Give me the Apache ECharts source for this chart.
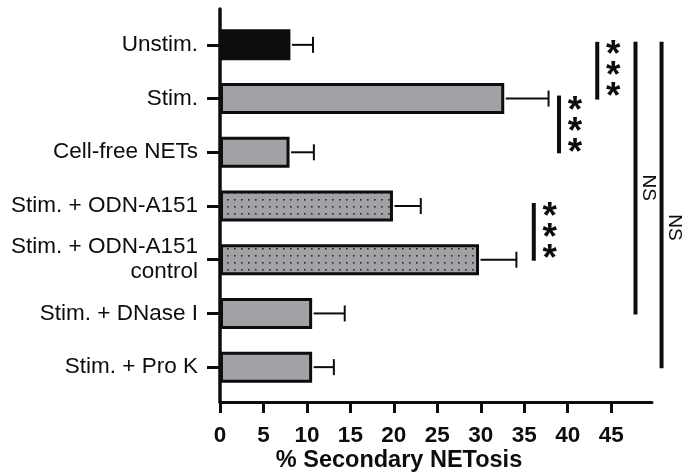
<!DOCTYPE html>
<html>
<head>
<meta charset="utf-8">
<script src="https://cdn.jsdelivr.net/npm/echarts@6/dist/echarts.min.js"></script>
<style>html,body{margin:0;padding:0;background:#fff}#chart{width:684px;height:476px}</style>
</head>
<body>
<div id="chart"></div>
<script>
// ---- data ----
const categories = ['Unstim.', 'Stim.', 'Cell-free NETs', 'Stim. + ODN-A151', 'Stim. + ODN-A151\ncontrol', 'Stim. + DNase I', 'Stim. + Pro K'];
const means = [8.1, 32.7, 8.0, 19.9, 29.8, 10.6, 10.6];
const errUpper = [10.7, 37.8, 10.8, 23.1, 34.1, 14.35, 13.1];
const fillKind = ['black', 'gray', 'gray', 'dots', 'dots', 'gray', 'gray'];
const xTicks = [0, 5, 10, 15, 20, 25, 30, 35, 40, 45];
// significance annotations
const sigX = [43.4, 39.0, 36.1, 47.8, 50.8];
const sigFrom = [0, 1, 3, 0, 0];
const sigTo = [1, 2, 4, 5, 6];
const sigLabel = ['***', '***', '***', 'NS', 'NS'];
const sigLabelPos = [0.43, 1.47, 3.45, 2.66, 3.4];

const FONT = "'Liberation Sans', Arial, sans-serif";
const INK = '#0d0d0d';
const GRAY = '#a2a2a6';

// dotted pattern
const pc = document.createElement('canvas');
pc.width = 7; pc.height = 7;
const pctx = pc.getContext('2d');
pctx.fillStyle = GRAY; pctx.fillRect(0, 0, 7, 7);
pctx.fillStyle = '#2a2a2a'; pctx.fillRect(3, 3, 1.6, 1.6);

function colorFor(k) {
  if (k === 'black') return INK;
  if (k === 'dots') return { image: pc, repeat: 'repeat' };
  return GRAY;
}

// y pixel for a fractional category position
function catY(api, x, v) {
  const lo = Math.floor(v), hi = Math.ceil(v);
  const a = api.coord([x, lo]), b = api.coord([x, hi]);
  return a[1] + (b[1] - a[1]) * (v - lo);
}

const chart = echarts.init(document.getElementById('chart'), null, { renderer: 'canvas' });
const XMAX = 49.7;
const option = {
  animation: false,
  backgroundColor: '#fff',
  grid: [
    { left: 220, right: 32, top: 18, height: 376, containLabel: false, outerBoundsMode: 'none' },
    { left: 220, right: 32, top: 9, bottom: 74, containLabel: false, outerBoundsMode: 'none' }
  ],
  xAxis: [
    { gridIndex: 0, type: 'value', min: 0, max: XMAX, show: false },
    {
      gridIndex: 1, type: 'value', min: 0, max: XMAX,
      axisLine: { show: true, onZero: false, lineStyle: { color: INK, width: 3 } },
      axisTick: { show: true, customValues: xTicks, length: 11, lineStyle: { color: INK, width: 3 } },
      axisLabel: { customValues: xTicks, color: INK, fontSize: 22.5, fontWeight: 'bold', fontFamily: FONT, margin: 22 },
      splitLine: { show: false },
      name: '% Secondary NETosis', nameLocation: 'middle', nameGap: 47, nameMoveOverlap: false,
      nameTextStyle: { color: INK, fontSize: 23.5, fontWeight: 'bold', fontFamily: FONT, padding: [0, 74, 0, 0] }
    }
  ],
  yAxis: [
    {
      gridIndex: 0, type: 'category', data: categories, inverse: true,
      axisLine: { show: false },
      axisTick: { show: true, alignWithLabel: true, length: 13, lineStyle: { color: INK, width: 3 } },
      axisLabel: { color: INK, fontSize: 22.5, fontFamily: FONT, margin: 22, lineHeight: 25 },
      splitLine: { show: false }
    },
    {
      gridIndex: 1, type: 'value', min: 0, max: 1,
      axisLine: { show: true, onZero: false, lineStyle: { color: INK, width: 3.5 } },
      axisTick: { show: false }, axisLabel: { show: false }, splitLine: { show: false }
    }
  ],
  series: [
    {
      type: 'bar', xAxisIndex: 0, yAxisIndex: 0, barWidth: 31,
      data: means.map((v, i) => ({ value: v, itemStyle: { color: colorFor(fillKind[i]) } })),
      itemStyle: { borderColor: INK, borderWidth: 3 },
      z: 2
    },
    {
      type: 'custom', xAxisIndex: 0, yAxisIndex: 0, z: 3,
      data: means.map((m, i) => [m, errUpper[i], i]),
      encode: { x: [0, 1], y: 2 },
      renderItem: function (params, api) {
        const y = api.value(2);
        const p0 = api.coord([api.value(0), y]);
        const p1 = api.coord([api.value(1), y]);
        const st = { stroke: INK, lineWidth: 2 };
        return {
          type: 'group', children: [
            { type: 'line', shape: { x1: p0[0] + 1.5, y1: p0[1], x2: p1[0], y2: p1[1] }, style: st },
            { type: 'line', shape: { x1: p1[0], y1: p1[1] - 8, x2: p1[0], y2: p1[1] + 8 }, style: st }
          ]
        };
      }
    },
    {
      type: 'custom', xAxisIndex: 0, yAxisIndex: 0, z: 4, clip: false,
      data: sigX.map((x, i) => [x, sigFrom[i], sigTo[i], sigLabelPos[i]]),
      encode: { x: 0, y: [1, 2] },
      renderItem: function (params, api) {
        const i = params.dataIndex;
        const x = api.value(0);
        const a = api.coord([x, api.value(1)]);
        const b = api.coord([x, api.value(2)]);
        const ty = catY(api, x, api.value(3));
        const children = [
          { type: 'line', shape: { x1: a[0], y1: a[1] - 3, x2: b[0], y2: b[1] + 1 }, style: { stroke: INK, lineWidth: 4 } }
        ];
        if (sigLabel[i] === 'NS') {
          children.push({
            type: 'text', x: a[0] + 12.5, y: ty, rotation: -Math.PI / 2,
            style: { text: 'NS', fill: INK, font: '19px ' + FONT, align: 'center', verticalAlign: 'middle' }
          });
        } else {
          for (let k = -1; k <= 1; k++) {
            children.push({
              type: 'text', x: a[0] + 16, y: ty + k * 21 + 9,
              style: { text: '*', fill: INK, font: 'bold 37px ' + FONT, align: 'center', verticalAlign: 'middle' }
            });
          }
        }
        return { type: 'group', children: children };
      }
    }
  ]
};
chart.setOption(option);
</script>
</body>
</html>
